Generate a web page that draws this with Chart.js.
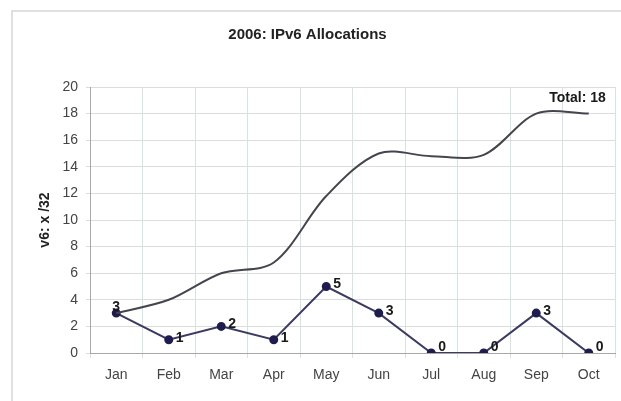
<!DOCTYPE html>
<html>
<head>
<meta charset="utf-8">
<script src="https://cdn.jsdelivr.net/npm/chart.js@4.4.1/dist/chart.umd.min.js"></script>
<style>
  html, body { margin: 0; padding: 0; background: #fff; }
</style>
</head>
<body>
<canvas id="chart" width="621" height="401"></canvas>
<script>
const months = ["Jan", "Feb", "Mar", "Apr", "May", "Jun", "Jul", "Aug", "Sep", "Oct"];
const monthly = [3, 1, 2, 1, 5, 3, 0, 0, 3, 0];
const cumulative = [3, 4, 6, 6.8, 11.8, 15, 14.8, 14.9, 18, 18];
const yMin = 0, yMax = 20, yStep = 2;
const totalText = "Total: 18";

const FONT = "'Liberation Sans', Arial, sans-serif";

// light grey frame around the whole chart, runs off the right/bottom edge
const framePlugin = {
  id: "frame",
  beforeDraw(chart) {
    const ctx = chart.ctx;
    ctx.save();
    ctx.strokeStyle = "#d6d6d6";
    ctx.lineWidth = 1.5;
    ctx.strokeRect(12, 11, 700, 500);
    ctx.restore();
  }
};

// value labels next to the monthly points + total label
const labelPlugin = {
  id: "labels",
  afterDatasetsDraw(chart) {
    const ctx = chart.ctx;
    ctx.save();
    ctx.fillStyle = "#1a1a1a";
    ctx.font = "bold 14px " + FONT;
    const pts = chart.getDatasetMeta(1).data;
    pts.forEach((p, i) => {
      if (i === 0) {
        ctx.textAlign = "center";
        ctx.textBaseline = "bottom";
        ctx.fillText(monthly[i], p.x, p.y + 1);
      } else {
        ctx.textAlign = "left";
        ctx.textBaseline = "middle";
        ctx.fillText(monthly[i], p.x + 7, p.y - (monthly[i] === 0 ? 6 : 2));
      }
    });
    const cum = chart.getDatasetMeta(0).data;
    const last = cum[cum.length - 1];
    ctx.textAlign = "right";
    ctx.textBaseline = "middle";
    ctx.fillText(totalText, last.x + 17, last.y - 15);
    ctx.restore();
  }
};

new Chart(document.getElementById("chart"), {
  type: "line",
  data: {
    labels: months,
    datasets: [
      {
        label: "Cumulative",
        data: cumulative,
        borderColor: "#45454d",
        borderWidth: 2,
        tension: 0.32,
        pointRadius: 0,
        fill: false
      },
      {
        label: "Monthly",
        data: monthly,
        borderColor: "#3b3a62",
        borderWidth: 2,
        tension: 0,
        pointRadius: 3.5,
        pointBackgroundColor: "#1f1c4e",
        pointBorderColor: "#1f1c4e",
        fill: false
      }
    ]
  },
  options: {
    responsive: false,
    animation: false,
    devicePixelRatio: 1,
    layout: { padding: { left: 0, right: 6, top: 0, bottom: 0 } },
    plugins: {
      legend: { display: false },
      tooltip: { enabled: false },
      title: {
        display: true,
        text: "2006: IPv6 Allocations",
        color: "#222",
        font: { family: FONT, size: 15, weight: "bold" },
        padding: { top: 26, bottom: 43 }
      }
    },
    scales: {
      x: {
        offset: true,
        grid: { offset: true, color: "#d5e3e3", tickLength: 5, drawTicks: true },
        border: { color: "#a8a8a8", width: 1 },
        ticks: { color: "#444", font: { family: FONT, size: 14 }, padding: 9 },
        afterFit(scale) { scale.height = 48; }
      },
      y: {
        min: yMin,
        max: yMax,
        grid: { color: "#dcdcdc", tickLength: 4 },
        border: { color: "#a8a8a8", width: 1 },
        ticks: { stepSize: yStep, color: "#444", font: { family: FONT, size: 14 }, padding: 8 },
        title: {
          display: true,
          text: "v6: x /32",
          color: "#222",
          font: { family: FONT, size: 14, weight: "bold" },
          padding: { top: 37, bottom: 0 }
        },
        afterFit(scale) { scale.width = 90; }
      }
    }
  },
  plugins: [framePlugin, labelPlugin]
});
</script>
</body>
</html>
